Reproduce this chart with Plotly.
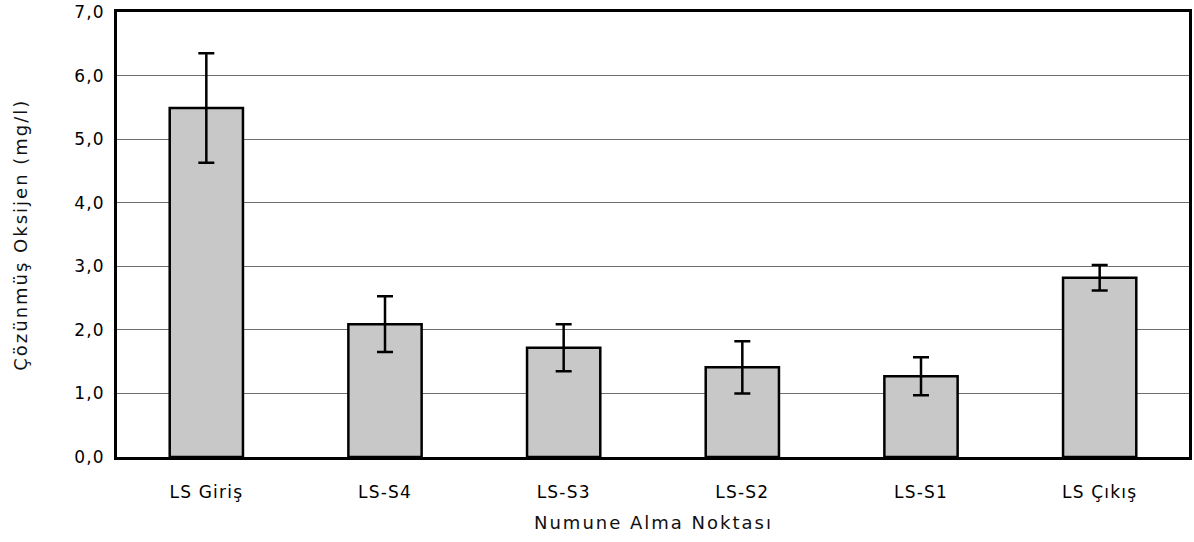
import plotly.graph_objects as go

# Sampling points and dissolved oxygen measurements
stations = ["LS Giriş", "LS-S4", "LS-S3", "LS-S2", "LS-S1", "LS Çıkış"]
mean_do = [5.49, 2.09, 1.72, 1.41, 1.27, 2.82]
std_do = [0.86, 0.44, 0.37, 0.41, 0.30, 0.20]
y_ticks = [0, 1, 2, 3, 4, 5, 6, 7]

font_family = "DejaVu Sans"

fig = go.Figure()
fig.add_trace(go.Bar(
    x=stations,
    y=mean_do,
    width=0.41,
    marker=dict(color="#c8c8c8", line=dict(color="black", width=2.5)),
    error_y=dict(type="data", array=std_do, visible=True,
                 color="black", thickness=2.5, width=8),
    showlegend=False,
))

fig.update_layout(
    width=1194, height=542,
    margin=dict(l=117, r=2, t=12, b=85),
    paper_bgcolor="white",
    plot_bgcolor="white",
    separators=",.",
    font=dict(family=font_family, color="black", size=17),
    annotations=[
        dict(text="Numune Alma Noktası", xref="paper", yref="paper",
             x=0.5, y=-0.148, xanchor="center", yanchor="middle",
             showarrow=False, font=dict(size=18, color="#111")),
        dict(text="Çözünmüş Oksijen (mg/l)", xref="paper", yref="paper",
             x=-0.0902, y=0.5, xanchor="center", yanchor="middle",
             textangle=-90, showarrow=False, font=dict(size=18, color="#111")),
    ],
)
fig.update_yaxes(
    range=[0, 7],
    tickvals=y_ticks,
    tickformat=".1f",
    showgrid=True,
    gridcolor="#6e6e6e",
    gridwidth=1,
    zeroline=False,
    showline=True, linecolor="black", linewidth=2.5, mirror=True,
    ticks="",
    ticklabelstandoff=6,
    tickfont=dict(size=17),
)
fig.update_xaxes(
    showgrid=False,
    showline=True, linecolor="black", linewidth=2.5, mirror=True,
    ticks="",
    ticklabelstandoff=18,
    tickfont=dict(size=17),
)

# Widen the tracking of the axis texts
spacing_js = """
document.querySelectorAll('.xtick text, .ytick text').forEach(function(t){
  t.style.letterSpacing = '1.2px';
});
document.querySelectorAll('.annotation-text').forEach(function(t){
  t.style.letterSpacing = '2px';
});
"""

fig.write_html("out.html", post_script=spacing_js)
